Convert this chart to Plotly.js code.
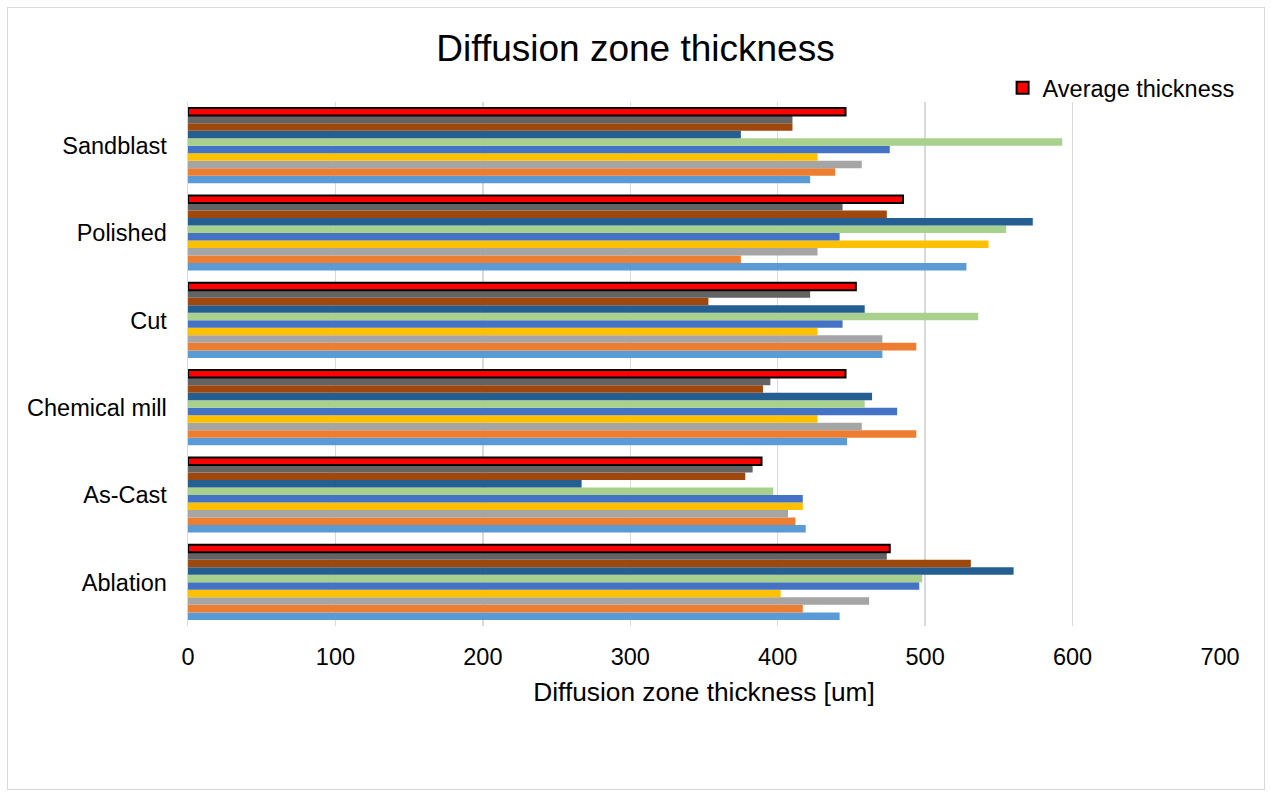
<!DOCTYPE html>
<html>
<head>
<meta charset="utf-8">
<script src="https://cdn.plot.ly/plotly-3.0.1.min.js"></script>
<style>
  html, body { margin: 0; padding: 0; background: #fff; }
  #chart { width: 1271px; height: 794px; }
  #frame { position: absolute; left: 7px; top: 7px; width: 1256px; height: 781px; border: 1px solid #d9d9d9; pointer-events: none; }
</style>
</head>
<body>
<div id="chart"></div>
<div id="frame"></div>
<script>
// Categories (bottom to top)
const categories = ["Ablation", "As-Cast", "Chemical mill", "Cut", "Polished", "Sandblast"];

// Series values in the same category order (series 1 is drawn lowest in each group)
const series1 = [442, 419, 447, 471, 528, 422];
const series2 = [417, 412, 494, 494, 375, 439];
const series3 = [462, 407, 457, 471, 427, 457];
const series4 = [402, 417, 427, 427, 543, 427];
const series5 = [496, 417, 481, 444, 442, 476];
const series6 = [498, 397, 459, 536, 555, 593];
const series7 = [560, 267, 464, 459, 573, 375];
const series8 = [531, 378, 390, 353, 474, 410];
const series9 = [474, 383, 395, 422, 444, 410];
const averageThickness = [476, 389, 446, 453, 485, 446];

const xTicks = [0, 100, 200, 300, 400, 500, 600, 700];

const seriesList = [series1, series2, series3, series4, series5, series6, series7, series8, series9];
const colors = ["#5B9BD5", "#ED7D31", "#A5A5A5", "#FFC000", "#4472C4", "#A9D18E", "#255E91", "#9E480E", "#636363"];

const traces = seriesList.map((vals, i) => ({
  type: "bar",
  orientation: "h",
  y: categories,
  x: vals,
  name: "Series " + (i + 1),
  showlegend: false,
  marker: { color: colors[i], line: { width: 0 } },
  hoverinfo: "x+y"
}));

traces.push({
  type: "bar",
  orientation: "h",
  y: categories,
  x: averageThickness,
  name: "Average thickness",
  showlegend: true,
  marker: { color: "#FF0000", line: { color: "#000000", width: 2 } }
});

const font = "Arial, 'Liberation Sans', sans-serif";

const layout = {
  width: 1271,
  height: 794,
  paper_bgcolor: "#ffffff",
  plot_bgcolor: "#ffffff",
  margin: { l: 188, r: 51, t: 102, b: 168 },
  barmode: "group",
  bargap: 0.14,
  bargroupgap: 0,
  font: { family: font, color: "#000000", size: 23.5 },
  title: {
    text: "Diffusion zone thickness",
    font: { family: font, size: 37, color: "#000000" },
    x: 0.5, xanchor: "center",
    y: 0.94, yanchor: "middle",
    yref: "container"
  },
  xaxis: {
    range: [0, 700],
    tickvals: xTicks,
    ticktext: xTicks.map(String),
    showgrid: true,
    gridcolor: "#d9d9d9",
    gridwidth: 1.5,
    zeroline: false,
    showline: false,
    ticks: "",
    ticklabelstandoff: 14,
    tickfont: { family: font, size: 23.5, color: "#000000" },
    title: {
      text: "Diffusion zone thickness [um]",
      font: { family: font, size: 26.3, color: "#000000" },
      standoff: 14
    },
    fixedrange: true
  },
  yaxis: {
    type: "category",
    categoryorder: "array",
    categoryarray: categories,
    showgrid: false,
    zeroline: false,
    showline: true,
    linecolor: "#d9d9d9",
    linewidth: 1.5,
    ticks: "",
    ticklabelstandoff: 15,
    tickfont: { family: font, size: 23.5, color: "#000000" },
    fixedrange: true
  },
  legend: {
    x: 1.019, xanchor: "right",
    y: 0.985, yanchor: "bottom",
    bgcolor: "rgba(0,0,0,0)",
    font: { family: font, size: 23.5, color: "#000000" },
    itemwidth: 30
  },
  showlegend: true
};

Plotly.newPlot("chart", traces, layout, { displayModeBar: false, staticPlot: true });
</script>
</body>
</html>
